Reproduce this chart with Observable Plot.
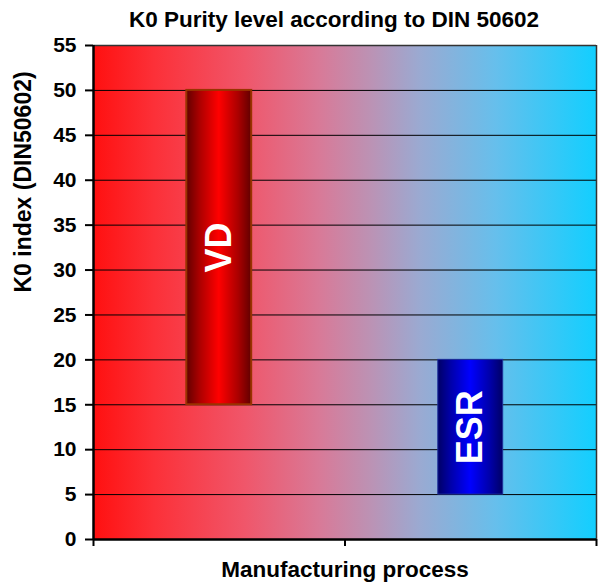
<!DOCTYPE html>
<html>
<head>
<meta charset="utf-8">
<script src="https://cdn.jsdelivr.net/npm/d3@7"></script>
<script src="https://cdn.jsdelivr.net/npm/@observablehq/plot@0.6"></script>
<style>
  html, body { margin: 0; padding: 0; background: #fff; }
</style>
</head>
<body>
<div id="chart"></div>
<script>
// K0 index ranges per manufacturing process (DIN 50602)
const processes = ["VD", "ESR"];
const k0Low = [15, 5];
const k0High = [50, 20];
const yTicks = [0, 5, 10, 15, 20, 25, 30, 35, 40, 45, 50, 55];
const xBoundaries = [0, 1, 2];

const title = "K0 Purity level according to DIN 50602";
const yLabel = "K0 index (DIN50602)";
const xLabel = "Manufacturing process";

const rows = processes.map((name, i) => ({ name, i, low: k0Low[i], high: k0High[i] }));

const barFraction = 0.258;            // bar width as share of a category slot
const barStroke = { VD: "#993300", ESR: "#1c2f9a" };
const barStrokeWidth = { VD: 2, ESR: 1 };
const font = "'Liberation Sans', Arial, Helvetica, sans-serif";

const barMarks = rows.map(r => Plot.rectY([r], {
  x1: d => d.i + 0.5 - barFraction / 2,
  x2: d => d.i + 0.5 + barFraction / 2,
  y1: "low",
  y2: "high",
  fill: `url(#grad-${r.name})`,
  stroke: barStroke[r.name],
  strokeWidth: barStrokeWidth[r.name]
}));

const svg = Plot.plot({
  width: 603,
  height: 583,
  marginLeft: 93,
  marginRight: 7,
  marginTop: 45,
  marginBottom: 44,
  style: { fontFamily: font, fontWeight: "bold", fontSize: "21px", color: "#000", background: "#fff" },
  x: { type: "linear", domain: [0, processes.length], axis: null },
  y: { domain: [0, 55], axis: null },
  marks: [
    Plot.frame({ fill: "url(#bg-grad)" }),
    // horizontal gridlines
    Plot.ruleY(yTicks.filter(t => t > 0 && t < 55), { stroke: "#000", strokeWidth: 1 }),
    // top and right plot borders
    Plot.ruleY([55], { stroke: "#333", strokeWidth: 1.5 }),
    Plot.ruleX([processes.length], { stroke: "#333", strokeWidth: 1.5 }),
    ...barMarks,
    Plot.text(rows, {
      x: d => d.i + 0.5,
      y: d => (d.low + d.high) / 2,
      text: "name",
      rotate: -90,
      fill: "#fff",
      fontSize: 36,
      fontWeight: "bold"
    }),
    // axes
    Plot.axisY(yTicks, { tickSize: 8, tickPadding: 9, strokeWidth: 2, stroke: "#000", fill: "#000", fontSize: 21, fontWeight: "bold" }),
    Plot.axisX(xBoundaries, { tickSize: 7, strokeWidth: 2, stroke: "#000", tickFormat: () => "" }),
    Plot.ruleX([0], { stroke: "#000", strokeWidth: 2.5 }),
    Plot.ruleY([0], { stroke: "#000", strokeWidth: 2.5 }),
    // titles
    Plot.text([title], { frameAnchor: "top", dy: -34, dx: -11, fontSize: 22.5, fontWeight: "bold", fill: "#000" }),
    Plot.text([yLabel], { frameAnchor: "left", dx: -70, rotate: -90, fontSize: 23, fontWeight: "bold", fill: "#000" }),
    Plot.text([xLabel], { frameAnchor: "bottom", dy: 37, fontSize: 22.5, fontWeight: "bold", fill: "#000" })
  ]
});

// gradients used by the plot background and the bars
const defs = d3.select(svg).insert("defs", ":first-child");
function hGradient(id, stops) {
  const g = defs.append("linearGradient").attr("id", id)
    .attr("x1", "0").attr("x2", "1").attr("y1", "0").attr("y2", "0");
  stops.forEach(([o, c]) => g.append("stop").attr("offset", o).attr("stop-color", c));
}
hGradient("bg-grad", [
  [0, "#ff1010"], [0.12, "#fc3038"], [0.3, "#f0566a"], [0.45, "#d87a98"],
  [0.55, "#bc92b4"], [0.65, "#9aaad2"], [0.8, "#66bfec"], [1, "#12cfff"]
]);
hGradient("grad-VD", [[0, "#620000"], [0.2, "#aa0000"], [0.5, "#ff0000"], [0.8, "#aa0000"], [1, "#620000"]]);
hGradient("grad-ESR", [[0, "#000066"], [0.2, "#0000aa"], [0.5, "#0000ff"], [0.8, "#0000aa"], [1, "#000066"]]);

document.getElementById("chart").appendChild(svg);
</script>
</body>
</html>
